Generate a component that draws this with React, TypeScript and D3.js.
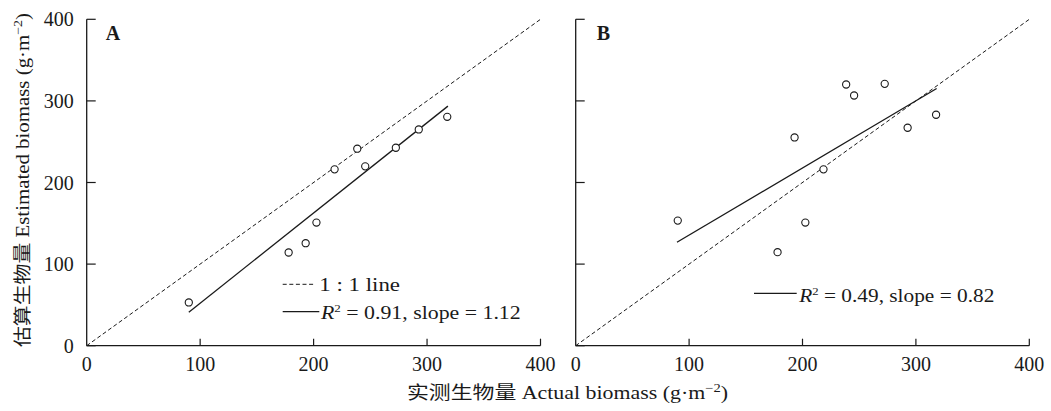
import React from "react";
import * as d3 from "d3";

const actual = [90, 178, 193, 202.5, 218.5, 238.5, 245.5, 272.5, 292.7, 317.8];
const estimatedA = [53, 114.2, 125.6, 150.9, 216.1, 241.4, 219.8, 242.6, 265, 280.5];
const estimatedB = [153.3, 114.6, 255.2, 150.9, 216.1, 320.1, 306.6, 320.9, 267.1, 283];
const fitA: [number, number][] = [[90, 41], [318.4, 293.6]];
const fitB: [number, number][] = [[89.3, 126.8], [318.3, 315.2]];
const oneToOne: [number, number][] = [[0, 0], [400, 400]];
const tickValues = [0, 100, 200, 300, 400];

const FONT = "'Liberation Serif', 'Times New Roman', 'Noto Sans CJK SC', serif";
const INK = "#1a1a1a";

const yScale = d3.scaleLinear().domain([0, 400]).range([345.7, 19.3]);

function Panel({ x0, x1, est, fit, label, showY, legend }: any) {
  const xScale = d3.scaleLinear().domain([0, 400]).range([x0, x1]);
  const line = d3.line<[number, number]>().x(d => xScale(d[0])).y(d => yScale(d[1]));
  return (
    <g>
      <line x1={xScale(0)} x2={xScale(0)} y1={yScale(0)} y2={yScale(400)} stroke={INK} strokeWidth={1.3} />
      <line x1={xScale(0)} x2={xScale(400)} y1={yScale(0)} y2={yScale(0)} stroke={INK} strokeWidth={1.3} />
      {tickValues.map(t => (
        <g key={"y" + t}>
          <line x1={xScale(0)} x2={xScale(0) + 9} y1={yScale(t)} y2={yScale(t)} stroke={INK} strokeWidth={1.2} />
          {showY && (
            <text x={xScale(0) - 13} y={yScale(t)} dy="0.35em" textAnchor="end" fontSize={20} fontFamily={FONT} fill={INK}>{t}</text>
          )}
        </g>
      ))}
      {tickValues.map(t => (
        <g key={"x" + t}>
          {t > 0 && <line x1={xScale(t)} x2={xScale(t)} y1={yScale(0)} y2={yScale(0) - 7} stroke={INK} strokeWidth={1.2} />}
          <text x={xScale(t)} y={370.5} textAnchor="middle" fontSize={20} fontFamily={FONT} fill={INK}>{t}</text>
        </g>
      ))}
      <path d={line(oneToOne) || ""} fill="none" stroke={INK} strokeWidth={1} strokeDasharray="4,2.6" />
      <path d={line(fit) || ""} fill="none" stroke={INK} strokeWidth={1.3} />
      {actual.map((a, i) => (
        <circle key={i} cx={xScale(a)} cy={yScale(est[i])} r={3.6} fill="white" stroke={INK} strokeWidth={1.1} />
      ))}
      <text x={label.x} y={40} fontSize={20} fontWeight="bold" fontFamily={FONT} fill={INK}>{label.text}</text>
      {legend}
    </g>
  );
}

function R2Text({ x, y, len, value }: any) {
  return (
    <text x={x} y={y} fontSize={18.5} fontFamily={FONT} fill={INK} textLength={len} lengthAdjust="spacingAndGlyphs">
      <tspan fontStyle="italic">R</tspan>
      <tspan fontSize={11} dy={-7}>2</tspan>
      <tspan dy={7}>{value}</tspan>
    </text>
  );
}

export default function App() {
  const legendA = (
    <g>
      <line x1={282.7} x2={315} y1={284.3} y2={284.3} stroke={INK} strokeWidth={1} strokeDasharray="4,2.6" />
      <text x={319.3} y={290.7} fontSize={18.5} fontFamily={FONT} fill={INK} textLength={80.7} lengthAdjust="spacingAndGlyphs">1 : 1 line</text>
      <line x1={282.7} x2={319.3} y1={311.7} y2={311.7} stroke={INK} strokeWidth={1.3} />
      <R2Text x={321} y={318.5} len={199.7} value=" = 0.91, slope = 1.12" />
    </g>
  );
  const legendB = (
    <g>
      <line x1={754} x2={796.7} y1={293.3} y2={293.3} stroke={INK} strokeWidth={1.3} />
      <R2Text x={799.3} y={301.5} len={195} value=" = 0.49, slope = 0.82" />
    </g>
  );
  return (
    <svg width={1051} height={411} style={{ position: "absolute", left: 0, top: 0, background: "white" }}>
      <rect width={1051} height={411} fill="white" />
      <Panel x0={86.7} x1={540.5} est={estimatedA} fit={fitA} label={{ x: 105.7, text: "A" }} showY legend={legendA} />
      <Panel x0={575.7} x1={1029.3} est={estimatedB} fit={fitB} label={{ x: 596.7, text: "B" }} showY={false} legend={legendB} />
      <text x={567.5} y={399} textAnchor="middle" fontSize={18} fontFamily={FONT} fill={INK} textLength={321} lengthAdjust="spacingAndGlyphs">
        实测生物量 Actual biomass (g·m<tspan fontSize={12} dy={-7}>−2</tspan><tspan dy={7}>)</tspan>
      </text>
      <text transform="translate(29,180) rotate(-90)" textAnchor="middle" fontSize={18} fontFamily={FONT} fill={INK} textLength={334} lengthAdjust="spacingAndGlyphs">
        估算生物量 Estimated biomass (g·m<tspan fontSize={12} dy={-7}>−2</tspan><tspan dy={7}>)</tspan>
      </text>
    </svg>
  );
}
